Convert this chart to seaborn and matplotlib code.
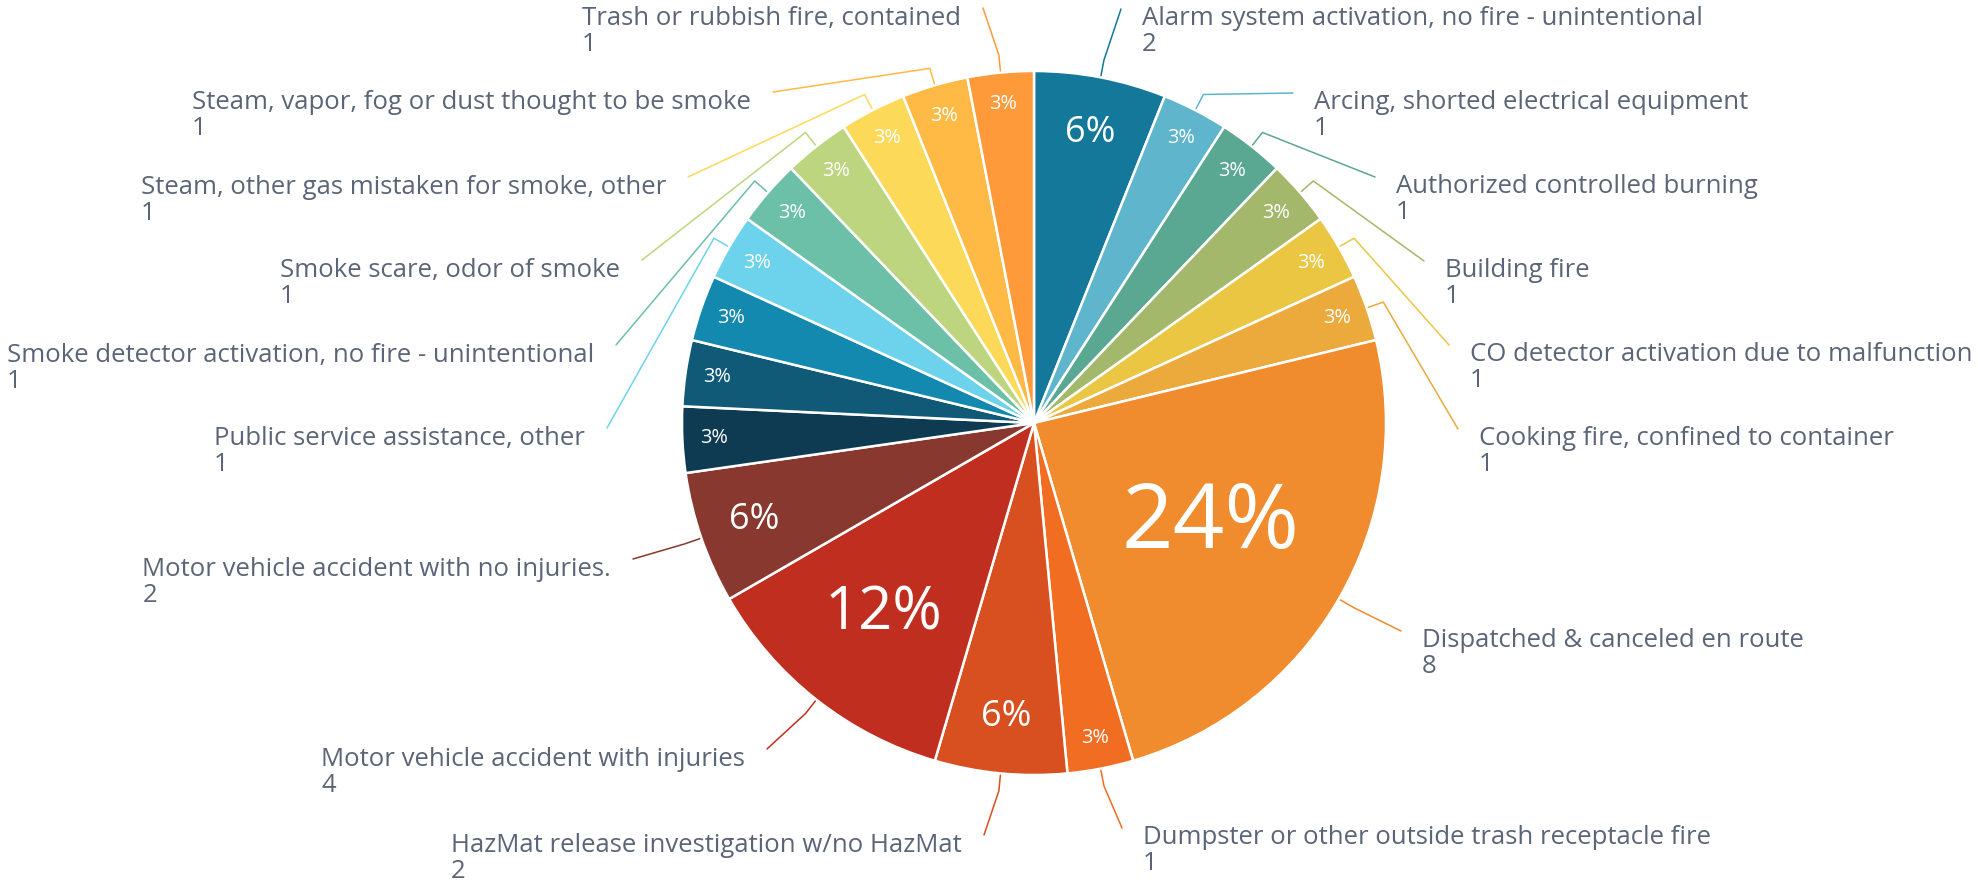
import numpy as np
import matplotlib.pyplot as plt
import seaborn as sns

sns.set_theme(style='white')
plt.rcParams['font.family'] = ['Open Sans', 'DejaVu Sans']

# incident types, clockwise from 12 o'clock
categories = [
    'Alarm system activation, no fire - unintentional',
    'Arcing, shorted electrical equipment',
    'Authorized controlled burning',
    'Building fire',
    'CO detector activation due to malfunction',
    'Cooking fire, confined to container',
    'Dispatched & canceled en route',
    'Dumpster or other outside trash receptacle fire',
    'HazMat release investigation w/no HazMat',
    'Motor vehicle accident with injuries',
    'Motor vehicle accident with no injuries.',
    'Natural vegetation fire, other',
    'Outside rubbish, trash or waste fire',
    'Power line down',
    'Public service assistance, other',
    'Smoke detector activation, no fire - unintentional',
    'Smoke scare, odor of smoke',
    'Steam, other gas mistaken for smoke, other',
    'Steam, vapor, fog or dust thought to be smoke',
    'Trash or rubbish fire, contained',
]
counts = [2, 1, 1, 1, 1, 1, 8, 1, 2, 4, 2, 1, 1, 1, 1, 1, 1, 1, 1, 1]

colors = ['#13789a', '#5fb6cc', '#5aa792', '#a4b86c', '#eac643', '#eca93c',
          '#f08b2e', '#f06d22', '#d84f20', '#bf2e1f', '#893830', '#0e3b52',
          '#105a77', '#1489b0', '#6dd3ec', '#6cc0a8', '#bdd57e', '#fdd95a',
          '#ffb945', '#fe9a3a']

# label layout in pixels: (text edge x, first line centre y, side); None = label hidden
label_layout = [
    (1142, 16, 'r'), (1314, 100, 'r'), (1396, 184, 'r'), (1445, 268, 'r'),
    (1470, 352, 'r'), (1479, 436, 'r'), (1422, 638, 'r'), (1143, 835, 'r'),
    (962, 843, 'l'), (745, 757, 'l'), (611, 567, 'l'), None, None, None,
    (585, 436, 'l'), (594, 353, 'l'), (620, 268, 'l'), (666, 185, 'l'),
    (751, 100, 'l'), (961, 16, 'l'),
]

# percent label style by slice count: (font size pt, distance as fraction of radius)
pct_style = {1: (14.4, 0.91), 2: (26, 0.84), 4: (43, 0.69), 8: (65, 0.58)}

W, H = 1978, 880
cx, cy, R = 1034, H - 423, 352
label_color = '#5b6577'
label_pt = 18.5

fig = plt.figure(figsize=(W / 100, H / 100), dpi=100)
ax = fig.add_axes([0, 0, 1, 1])

palette = sns.color_palette(colors)
wedges, _ = ax.pie(counts, colors=palette, startangle=90, counterclock=False,
                   radius=R, center=(cx, cy),
                   wedgeprops=dict(edgecolor='white', linewidth=1.8))

total = sum(counts)
for i, w in enumerate(wedges):
    mid = np.deg2rad((w.theta1 + w.theta2) / 2)
    ux, uy = np.cos(mid), np.sin(mid)
    size, dist = pct_style[counts[i]]
    pct = round(counts[i] / total * 100)
    ax.text(cx + ux * R * dist, cy + uy * R * dist, f'{pct}%', color='white',
            fontsize=size, ha='center', va='center')

    lay = label_layout[i]
    if lay is None:
        continue
    tx, ty, side = lay
    ty = H - ty
    if side == 'r':
        ex, ey = tx - 21, ty + 7
        ha = 'left'
    else:
        ex, ey = tx + 22, ty + 8
        ha = 'right'
    p0 = (cx + ux * R * 1.005, cy + uy * R * 1.005)
    p1 = (cx + ux * R * 1.05, cy + uy * R * 1.05)
    ax.plot([p0[0], p1[0], ex], [p0[1], p1[1], ey], color=colors[i], lw=1.1,
            solid_joinstyle='round', solid_capstyle='round')
    em = label_pt / 0.72
    ax.text(tx, ty + 0.40 * em, f'{categories[i]}\n{counts[i]}', color=label_color,
            fontsize=label_pt, ha=ha, va='top', multialignment='left',
            linespacing=1.08)

ax.set_xlim(0, W)
ax.set_ylim(0, H)
ax.set_aspect('equal')
ax.axis('off')

fig.savefig('out.png', dpi=100, facecolor='white')
